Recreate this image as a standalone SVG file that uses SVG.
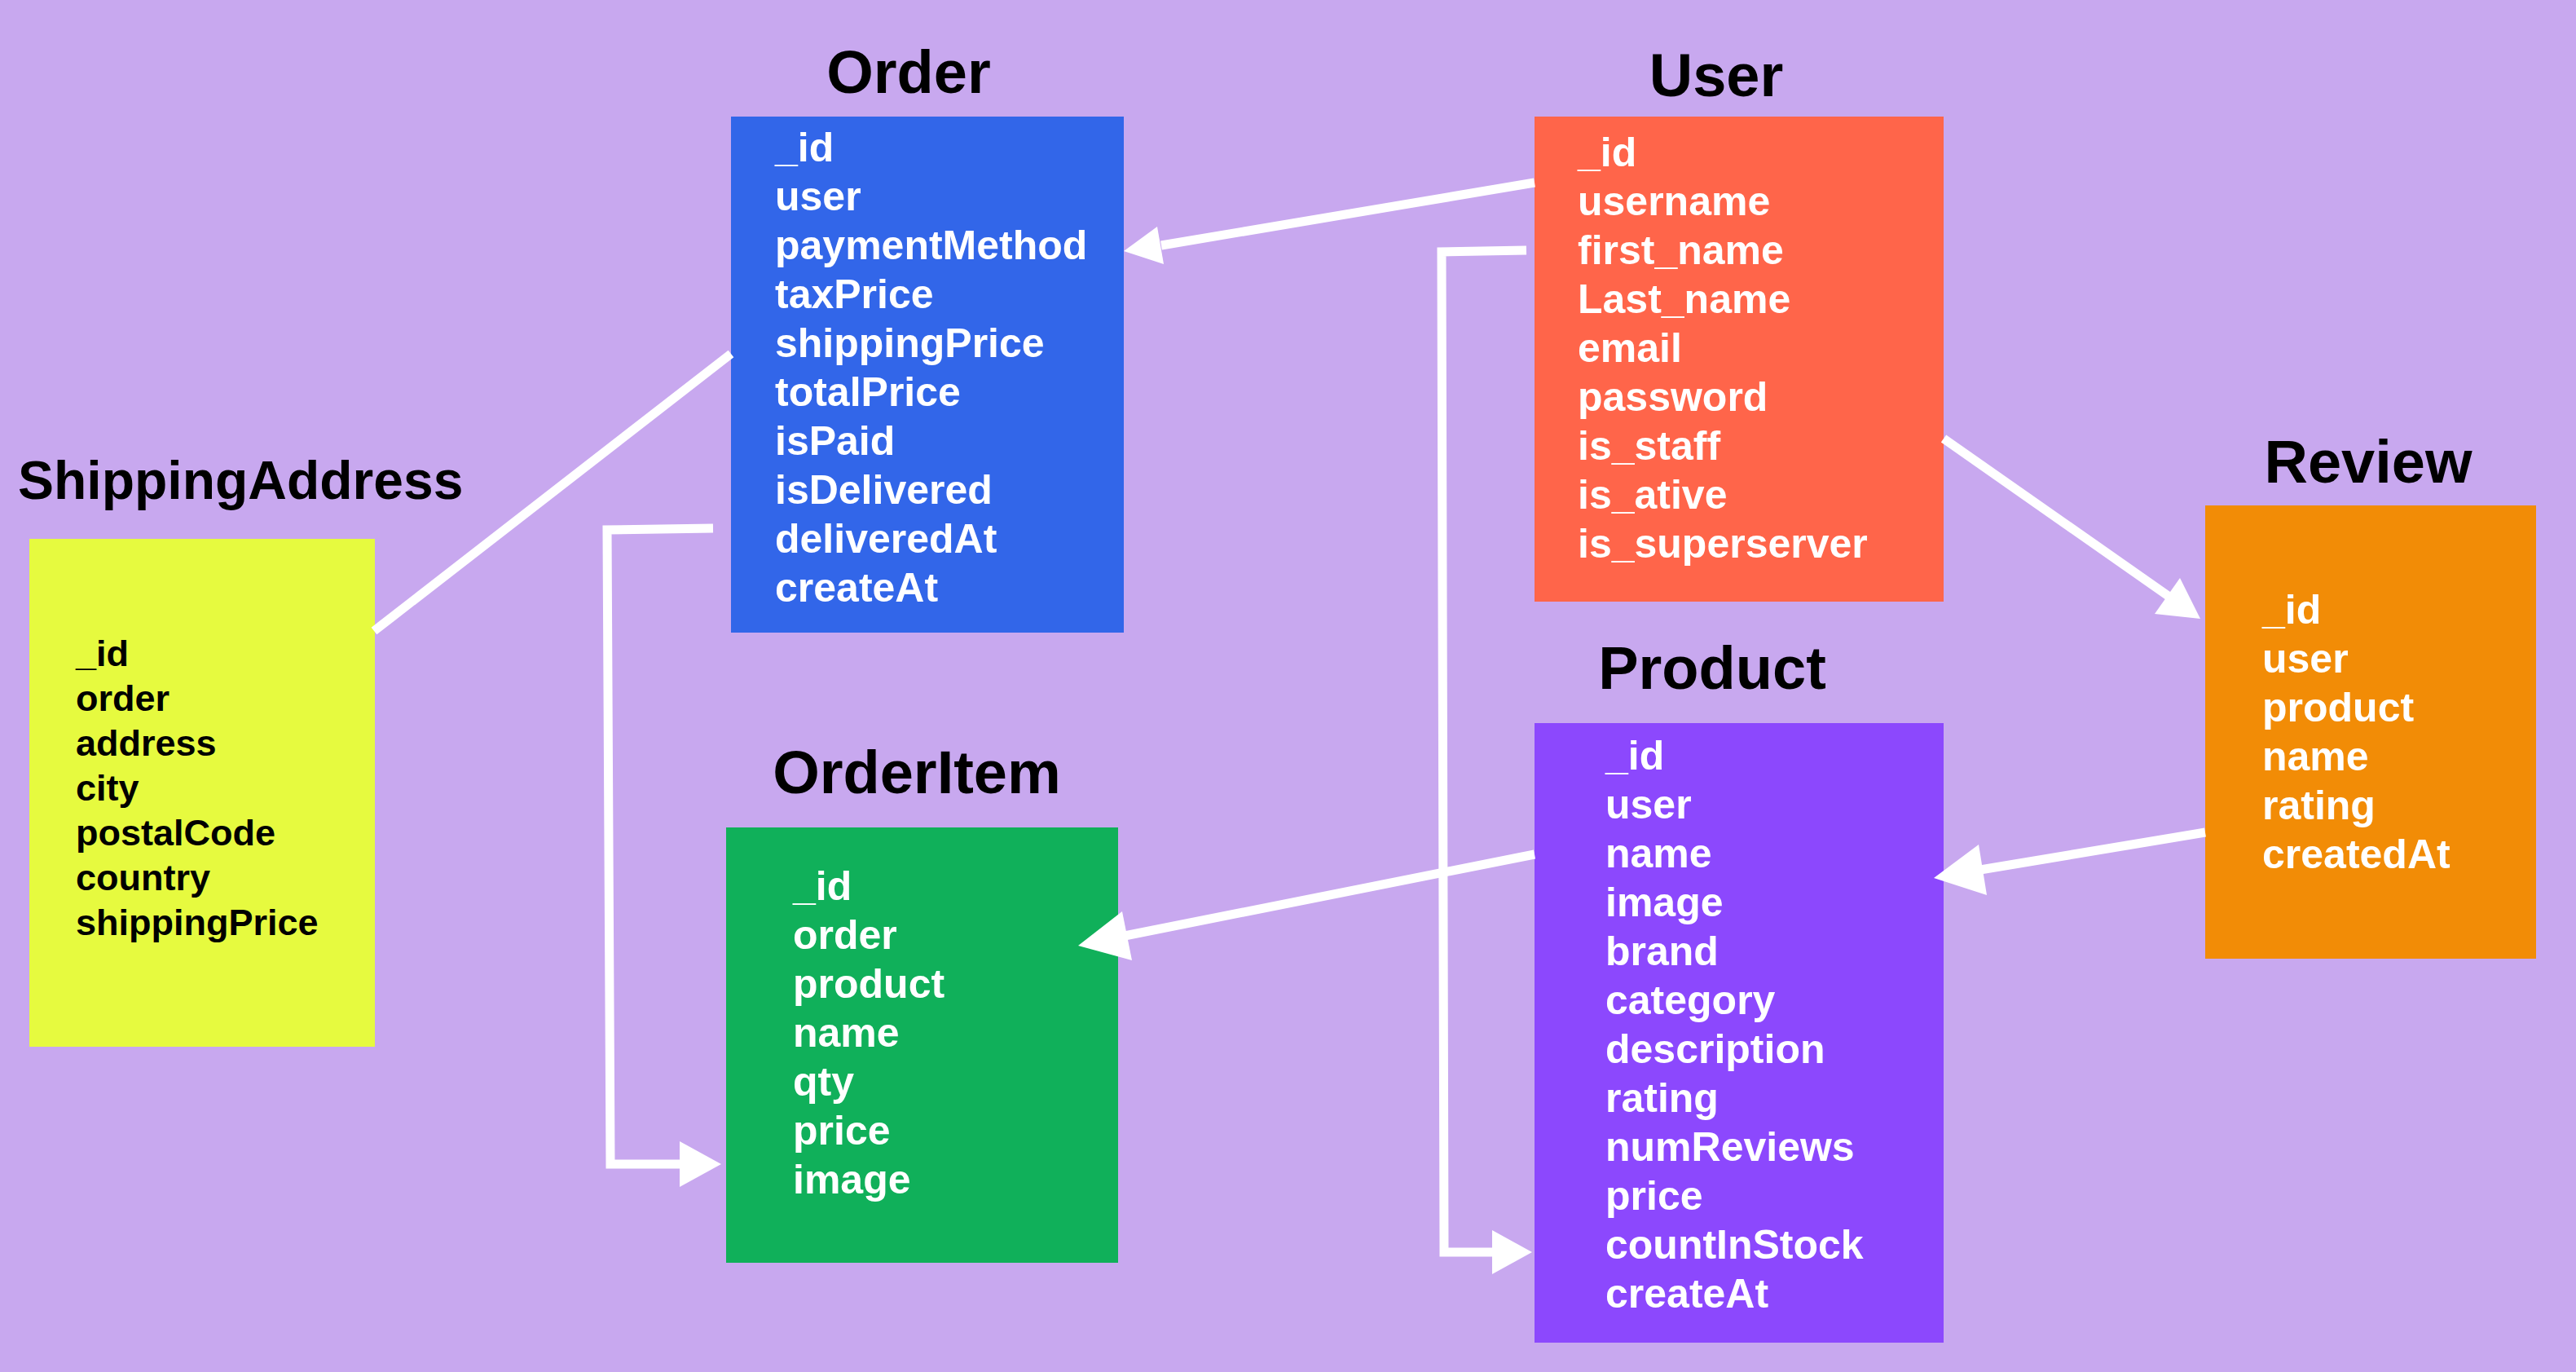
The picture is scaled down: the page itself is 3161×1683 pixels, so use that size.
<svg xmlns="http://www.w3.org/2000/svg" width="3161" height="1683" viewBox="0 0 3161 1683">
<style>
.title{font-family:"Liberation Sans",Arial,Helvetica,sans-serif;font-weight:bold;font-size:74px;fill:#000;text-anchor:middle}
.field{font-family:"Liberation Sans",Arial,Helvetica,sans-serif;font-weight:bold;font-size:50px;fill:#fff}
.sfield{font-family:"Liberation Sans",Arial,Helvetica,sans-serif;font-weight:bold;font-size:45px;fill:#000}
.conn{fill:none;stroke:#fff;stroke-width:11;stroke-linejoin:miter}
.head{fill:#fff}
</style>
<rect x="0" y="0" width="3161" height="1683" fill="#c8a8ef"/>

<g id="order">
  <text class="title" x="1115" y="114">Order</text>
  <rect x="897" y="143" width="482" height="633" fill="#3266e9"/>
  <text class="field" x="951" y="198">_id</text>
  <text class="field" x="951" y="258">user</text>
  <text class="field" x="951" y="318">paymentMethod</text>
  <text class="field" x="951" y="378">taxPrice</text>
  <text class="field" x="951" y="438">shippingPrice</text>
  <text class="field" x="951" y="498">totalPrice</text>
  <text class="field" x="951" y="558">isPaid</text>
  <text class="field" x="951" y="618">isDelivered</text>
  <text class="field" x="951" y="678">deliveredAt</text>
  <text class="field" x="951" y="738">createAt</text>
</g>

<g id="user">
  <text class="title" x="2106" y="118">User</text>
  <rect x="1883" y="143" width="502" height="595" fill="#ff654a"/>
  <text class="field" x="1936" y="204">_id</text>
  <text class="field" x="1936" y="264">username</text>
  <text class="field" x="1936" y="324">first_name</text>
  <text class="field" x="1936" y="384">Last_name</text>
  <text class="field" x="1936" y="444">email</text>
  <text class="field" x="1936" y="504">password</text>
  <text class="field" x="1936" y="564">is_staff</text>
  <text class="field" x="1936" y="624">is_ative</text>
  <text class="field" x="1936" y="684">is_superserver</text>
</g>

<g id="shippingaddress">
  <text class="title" x="22" y="612" style="text-anchor:start;font-size:66px">ShippingAddress</text>
  <rect x="36" y="661" width="424" height="623" fill="#e6fa3f"/>
  <text class="sfield" x="93" y="817">_id</text>
  <text class="sfield" x="93" y="872">order</text>
  <text class="sfield" x="93" y="927">address</text>
  <text class="sfield" x="93" y="982">city</text>
  <text class="sfield" x="93" y="1037">postalCode</text>
  <text class="sfield" x="93" y="1092">country</text>
  <text class="sfield" x="93" y="1147">shippingPrice</text>
</g>

<g id="orderitem">
  <text class="title" x="1125" y="973">OrderItem</text>
  <rect x="891" y="1015" width="481" height="534" fill="#10b05a"/>
  <text class="field" x="973" y="1104">_id</text>
  <text class="field" x="973" y="1164">order</text>
  <text class="field" x="973" y="1224">product</text>
  <text class="field" x="973" y="1284">name</text>
  <text class="field" x="973" y="1344">qty</text>
  <text class="field" x="973" y="1404">price</text>
  <text class="field" x="973" y="1464">image</text>
</g>

<g id="product">
  <text class="title" x="2101" y="845">Product</text>
  <rect x="1883" y="887" width="502" height="760" fill="#8c48fd"/>
  <text class="field" x="1970" y="944">_id</text>
  <text class="field" x="1970" y="1004">user</text>
  <text class="field" x="1970" y="1064">name</text>
  <text class="field" x="1970" y="1124">image</text>
  <text class="field" x="1970" y="1184">brand</text>
  <text class="field" x="1970" y="1244">category</text>
  <text class="field" x="1970" y="1304">description</text>
  <text class="field" x="1970" y="1364">rating</text>
  <text class="field" x="1970" y="1424">numReviews</text>
  <text class="field" x="1970" y="1484">price</text>
  <text class="field" x="1970" y="1544">countInStock</text>
  <text class="field" x="1970" y="1604">createAt</text>
</g>

<g id="review">
  <text class="title" x="2906" y="592">Review</text>
  <rect x="2706" y="620" width="406" height="556" fill="#f28c06"/>
  <text class="field" x="2776" y="765">_id</text>
  <text class="field" x="2776" y="825">user</text>
  <text class="field" x="2776" y="885">product</text>
  <text class="field" x="2776" y="945">name</text>
  <text class="field" x="2776" y="1005">rating</text>
  <text class="field" x="2776" y="1065">createdAt</text>
</g>

<g id="connectors">
  <line class="conn" x1="459" y1="774" x2="897" y2="434"/>
  <line class="conn" x1="1883" y1="224" x2="1425" y2="301"/>
  <polygon class="head" points="1379,308 1420,278 1428,324"/>
  <polyline class="conn" points="875,648 745,650 749,1428 838,1428"/>
  <polygon class="head" points="885,1428 834,1400 834,1456"/>
  <polyline class="conn" points="1873,307 1769,309 1772,1536 1834,1536"/>
  <polygon class="head" points="1880,1536 1831,1509 1831,1563"/>
  <line class="conn" x1="2385" y1="538" x2="2662" y2="732"/>
  <polygon class="head" points="2700,759 2675,709 2644,753"/>
  <line class="conn" x1="2706" y1="1021" x2="2430" y2="1067"/>
  <polygon class="head" points="2373,1077 2428,1036 2438,1098"/>
  <line class="conn" x1="1883" y1="1048" x2="1380" y2="1148"/>
  <polygon class="head" points="1323,1160 1377,1118 1389,1178"/>
</g>
</svg>
